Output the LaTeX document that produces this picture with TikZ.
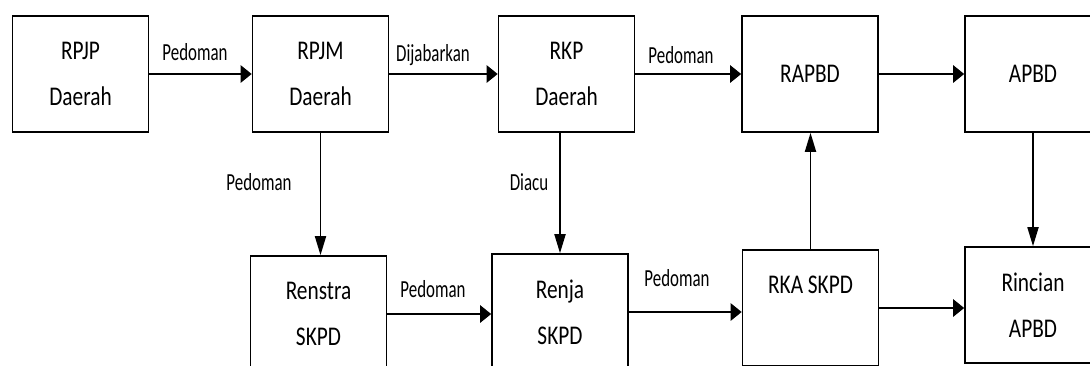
\documentclass[tikz,border=0pt]{standalone}
\usepackage{fontspec}
\setmainfont[FakeStretch=0.79]{Carlito}
\newfontfamily\lblfont[FakeStretch=0.69]{Carlito}
\usetikzlibrary{arrows.meta}

\begin{document}
\begin{tikzpicture}[x=1pt,y=-1pt,
    box/.style={draw, line width=1.6pt, minimum width=136pt, minimum height=116pt,
      align=center, inner sep=0pt, font=\fontsize{27}{46}\selectfont},
    lbl/.style={font=\lblfont\fontsize{24.5}{26}\selectfont, inner sep=0pt},
    harrow/.style={line width=2.6pt, -{Triangle[length=11pt,width=17pt]}},
    varrow/.style={line width=1.8pt, -{Triangle[length=19pt,width=11pt]}}]
      \useasboundingbox (0,0) rectangle (1090,365);

      % Top row
      \node[box] (rpjp) at (80.5,74) {RPJP\\Daerah};
      \node[box] (rpjm) at (320.5,74) {RPJM\\Daerah};
      \node[box] (rkp) at (566.5,74) {RKP\\Daerah};
      \node[box] (rapbd) at (810,74) {RAPBD};
      \node[box] (apbd) at (1033,74) {APBD};

      % Bottom row
      \node[box] (renstra) at (318.5,314) {Renstra\\SKPD};
      \node[box] (renja) at (560,312) {Renja\\SKPD};
      \node[box] (rka) at (810.5,308) {RKA SKPD\\\phantom{SKPD}};
      \node[box] (rincian) at (1033,305) {Rincian\\APBD};

      % Arrows between the boxes
      \draw[harrow] (rpjp) -- (rpjm);
      \draw[harrow] (rpjm) -- (rkp);
      \draw[harrow] (rkp) -- (rapbd);
      \draw[harrow] (rapbd) -- (apbd);
      \draw[varrow] (rpjm.south) -- (rpjm.south |- renstra.north);
      \draw[varrow] (renja.north |- rkp.south) -- (renja.north);
      \draw[harrow] (renstra.east) -- (renstra.east -| renja.west);
      \draw[harrow] (renja.east) -- (renja.east -| rka.west);
      \draw[harrow] (rka.east) -- (rka.east -| rincian.west);
      \draw[varrow] (rka.north) -- (rka.north |- rapbd.south);
      \draw[varrow] (apbd.south) -- (apbd.south |- rincian.north);

      % Arrow labels
      \node[lbl] (lpjp) at (195,52) {Pedoman};
      \node[lbl] (lpjm) at (433,55) {Dijabarkan};
      \node[lbl] (lrkp) at (681,55) {Pedoman};
      \node[lbl] (lren) at (259,182) {Pedoman};
      \node[lbl] (lacu) at (529,182) {Diacu};
      \node[lbl] (lstr) at (433,289) {Pedoman};
      \node[lbl] (lrja) at (677,278) {Pedoman};
\end{tikzpicture}
\end{document}
